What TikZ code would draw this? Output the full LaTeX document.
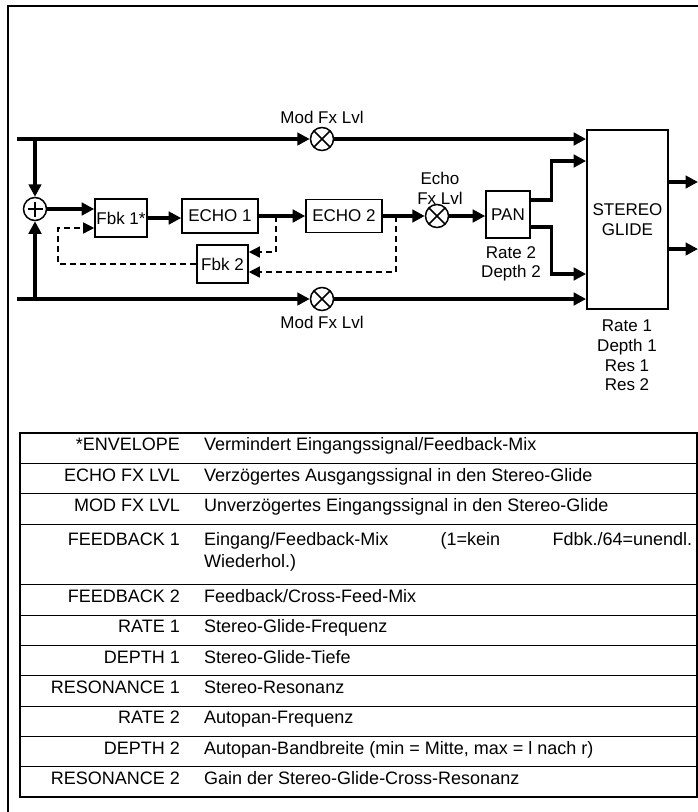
\documentclass[tikz,border=0pt]{standalone}
\usepackage{fontspec}
\setmainfont{Liberation Sans}
\usetikzlibrary{arrows.meta,calc}
\newcommand{\diagfont}{\fontsize{17}{19.6}\selectfont}
\newcommand{\tabfont}{\fontsize{18}{21}\selectfont}
\tikzset{
  blk/.style={draw, line width=1.6pt, inner sep=0pt, font=\diagfont, align=center},
  lbl/.style={inner sep=0pt, font=\diagfont, align=center},
  flow/.style={line width=3.1pt, -{Triangle[length=12.5pt,width=12.5pt]}},
  fbline/.style={line width=1.5pt, dash pattern=on 6pt off 4pt, -{Triangle[length=11pt,width=11pt]}},
  mult/.style={circle, draw, line width=1.5pt, minimum size=23pt, inner sep=0pt,
    path picture={\draw[line width=1.5pt] (path picture bounding box.north west) -- (path picture bounding box.south east)
      (path picture bounding box.north east) -- (path picture bounding box.south west);}},
  summ/.style={circle, draw, line width=1.5pt, minimum size=23pt, inner sep=0pt,
    path picture={\draw[line width=1.5pt] ([yshift=-4pt]path picture bounding box.north) -- ([yshift=4pt]path picture bounding box.south)
      ([xshift=4pt]path picture bounding box.west) -- ([xshift=-4pt]path picture bounding box.east);}},
  tlab/.style={inner sep=0pt, font=\tabfont, anchor=mid east},
  tdesc/.style={inner sep=0pt, font=\tabfont, anchor=mid west},
}
\begin{document}
\begin{tikzpicture}[x=1pt, y=-1pt]
\useasboundingbox (0,0) rectangle (698,812);
% outer frame
\draw[line width=2.4pt] (8,812) -- (8,6) -- (698,6);

% blocks
\node[summ] (sum) at (35,209) {};
\node[blk, minimum width=52pt, minimum height=38pt] (fbk1) at (121,218) {Fbk 1*};
\node[blk, minimum width=76pt, minimum height=34pt] (echo1) at (220,216) {ECHO 1};
\node[blk, minimum width=76pt, minimum height=33pt] (echo2) at (344,216) {ECHO 2};
\node[blk, minimum width=51pt, minimum height=38pt] (fbk2) at (222.5,264) {Fbk 2};
\node[mult] (echoc) at (437,216) {};
\node[blk, minimum width=44pt, minimum height=47pt] (pan) at (508,214.5) {PAN};
\node[blk, line width=1.8pt, minimum width=81pt, minimum height=179pt] (sg) at (627.5,219.5) {STEREO\\GLIDE};
\node[mult] (modtop) at (322,139) {};
\node[mult] (modbot) at (322,299) {};

% labels
\node[lbl] (lmodtop) at (322,117) {Mod Fx Lvl};
\node[lbl] (lmodbot) at (322,322) {Mod Fx Lvl};
\node[lbl] (lecho) at (440,188.5) {Echo\\Fx Lvl};
\node[lbl] (lpan) at (511,264) {Rate 2\\Depth 2};
\node[lbl] (lsg) at (627,355.5) {Rate 1\\Depth 1\\Res 1\\Res 2};

% bus coordinates
\coordinate (tl) at (17,139);
\coordinate (bl) at (17,299);
\coordinate (tj) at (35,139);
\coordinate (bj) at (35,299);
\coordinate (out1) at (698,182);
\coordinate (out2) at (698,249);
\coordinate (tap1) at (276,216);
\coordinate (tap2) at (396,216);
\coordinate (fbl) at (58,264);

% main bus lines
\draw[flow] (tl) -- (modtop.west);
\draw[flow] (modtop.east) -- (sg.west |- modtop);
\draw[flow] (bl) -- (modbot.west);
\draw[flow] (modbot.east) -- (sg.west |- modbot);
\draw[flow] (tj) -- (sum.north);
\draw[flow] (bj) -- (sum.south);

% signal chain
\draw[flow] (sum.east) -- (fbk1.west |- sum);
\draw[flow] (fbk1.east) -- (echo1.west |- fbk1.east);
\draw[flow] (echo1.east) -- (echo2.west);
\draw[flow] (echo2.east) -- (echoc.west);
\draw[flow] (echoc.east) -- (pan.west |- echoc);
\draw[flow] (pan.east |- 0,200) -- ++(21,0) |- (sg.west |- 0,161);
\draw[flow] (pan.east |- 0,227) -- ++(21,0) |- (sg.west |- 0,274);
\draw[flow] (sg.east |- out1) -- (out1);
\draw[flow] (sg.east |- out2) -- (out2);

% feedback (dashed)
\draw[fbline] (tap1) |- (fbk2.east |- 0,252);
\draw[fbline] (tap2) |- (fbk2.east |- 0,272);
\draw[fbline] (fbk2.west) -- (fbl) |- (fbk1.west |- 0,228);

% table
\draw[line width=1.2pt] (20,433) rectangle (697,797);
\draw[line width=2.4pt] (697,433) -- (20,433) -- (20,797) -- (697,797);
\foreach \yy in {463.3,493.7,524,584.7,615,645.3,675.7,706,736.3,766.7}
  \draw[line width=1pt] (20,\yy) -- (697,\yy);

\node[tlab] (k1) at (180,448.2) {*ENVELOPE};
\node[tdesc] (d1) at (204,448.2) {Vermindert Eingangssignal/Feedback-Mix};
\node[tlab] (k2) at (180,478.5) {ECHO FX LVL};
\node[tdesc] (d2) at (204,478.5) {Verzögertes Ausgangssignal in den Stereo-Glide};
\node[tlab] (k3) at (180,508.8) {MOD FX LVL};
\node[tdesc] (d3) at (204,508.8) {Unverzögertes Eingangssignal in den Stereo-Glide};
\node[tlab] (k4) at (180,543) {FEEDBACK 1};
\node[tdesc] (d4) at (204,543) {\makebox[488pt][s]{Eingang/Feedback-Mix (1=kein Fdbk./64=unendl.}};
\node[tdesc] (d4b) at (204,565) {Wiederhol.)};
\node[tlab] (k5) at (180,599.8) {FEEDBACK 2};
\node[tdesc] (d5) at (204,599.8) {Feedback/Cross-Feed-Mix};
\node[tlab] (k6) at (180,630.2) {RATE 1};
\node[tdesc] (d6) at (204,630.2) {Stereo-Glide-Frequenz};
\node[tlab] (k7) at (180,660.5) {DEPTH 1};
\node[tdesc] (d7) at (204,660.5) {Stereo-Glide-Tiefe};
\node[tlab] (k8) at (180,690.8) {RESONANCE 1};
\node[tdesc] (d8) at (204,690.8) {Stereo-Resonanz};
\node[tlab] (k9) at (180,721.2) {RATE 2};
\node[tdesc] (d9) at (204,721.2) {Autopan-Frequenz};
\node[tlab] (k10) at (180,751.5) {DEPTH 2};
\node[tdesc] (d10) at (204,751.5) {Autopan-Bandbreite (min = Mitte, max = l nach r)};
\node[tlab] (k11) at (180,781.8) {RESONANCE 2};
\node[tdesc] (d11) at (204,781.8) {Gain der Stereo-Glide-Cross-Resonanz};
\end{tikzpicture}
\end{document}
